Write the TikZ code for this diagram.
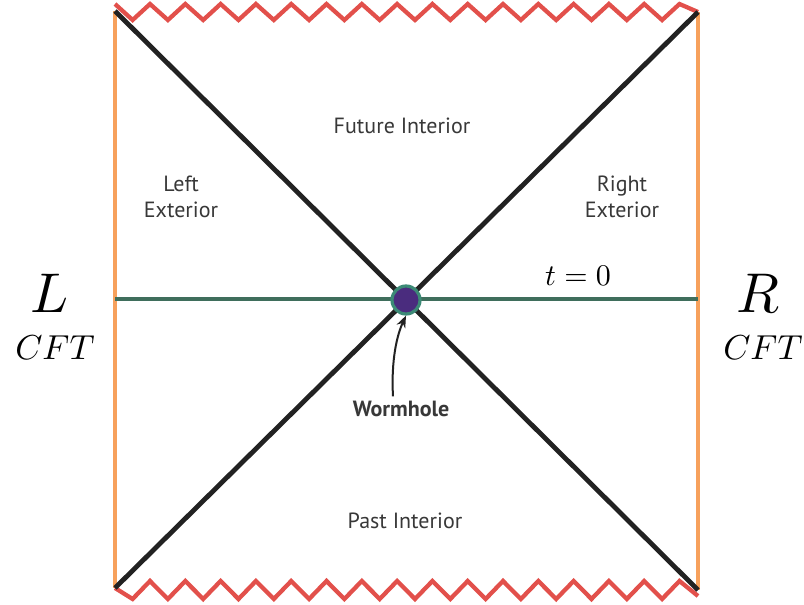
\documentclass[tikz,border=0pt]{standalone}
\usepackage{fontspec}
\setsansfont{PT Sans}
\usepackage{tikz}
\usetikzlibrary{positioning,arrows.meta,calc}
\definecolor{cnaranja}{HTML}{F7A15C}
\definecolor{crojo}{HTML}{E2504B}
\definecolor{cverde}{HTML}{3F6E5C}
\definecolor{cnegro}{HTML}{222222}
\definecolor{cmorado}{HTML}{4A2C7E}
\definecolor{cturq}{HTML}{3C8A76}
\tikzset{
  borde/.style={line width=2.6pt, draw=cnaranja},
  singular/.style={line width=3.2pt, draw=crojo, line join=miter},
  horizonte/.style={line width=3.6pt, draw=cnegro},
  corte/.style={line width=3.4pt, draw=cverde},
  region/.style={font=\sffamily\fontsize{16.5}{20}\selectfont, text=cnegro!90, align=center},
  cft/.style={scale=2.6},
  letra/.style={scale=4.2},
}

\begin{document}
\begin{tikzpicture}[x=0.75pt, y=-0.75pt]
  \useasboundingbox (0,0) rectangle (804,604);
  % esquinas del diagrama
  \coordinate (tl) at (115,11);
  \coordinate (tr) at (698,12);
  \coordinate (bl) at (115,588);
  \coordinate (br) at (698,590);
  \coordinate (ml) at (115,299);
  \coordinate (mr) at (698,299);
  % fronteras
  \draw[borde] (tl) -- (bl);
  \draw[borde] (tr) -- (br);
  % singularidades
  \draw[singular] (115,4)
    \foreach \k in {0,...,15} { -- ({132.6+35.3*\k},20) -- ({150+35.3*\k},4) } -- (tr);
  \draw[singular] (bl)
    \foreach \k in {0,...,15} { -- ({132.6+35.3*\k},599) -- ({150+35.3*\k},581) } -- (698,596);
  % horizontes
  \draw[horizonte] (tl) -- (br);
  \draw[horizonte] (tr) -- (bl);
  \draw[corte] (ml) -- (mr);
  \node[circle, fill=cmorado, draw=cturq, line width=2.4pt, minimum size=21pt, inner sep=0pt] (wh) at (406,300) {};
  % etiquetas
  \node[region] (fut) at (402,126) {Future Interior};
  \node[region] (lext) at (181,197) {Left\\Exterior};
  \node[region] (rext) at (622,197) {Right\\Exterior};
  \node[region] (past) at (405,521) {Past Interior};
  \node[region, font=\sffamily\bfseries\fontsize{16.5}{20}\selectfont] (wlab) at (401,409) {Wormhole};
  \draw[-{Stealth[length=9pt, width=7pt]}, line width=1.5pt, cnegro] (wlab.north) ++(-8,0) .. controls (391,360) and (397,335) .. (wh.south);
  \node[scale=2.25] (tcero) at (578,276) {$t=0$};
  \node[letra] (L) at (50,293) {$L$};
  \node[cft] (lcft) at (55,348) {$CFT$};
  \node[letra] (R) at (758,293) {$R$};
  \node[cft] (rcft) at (763,348) {$CFT$};
\end{tikzpicture}
\end{document}
